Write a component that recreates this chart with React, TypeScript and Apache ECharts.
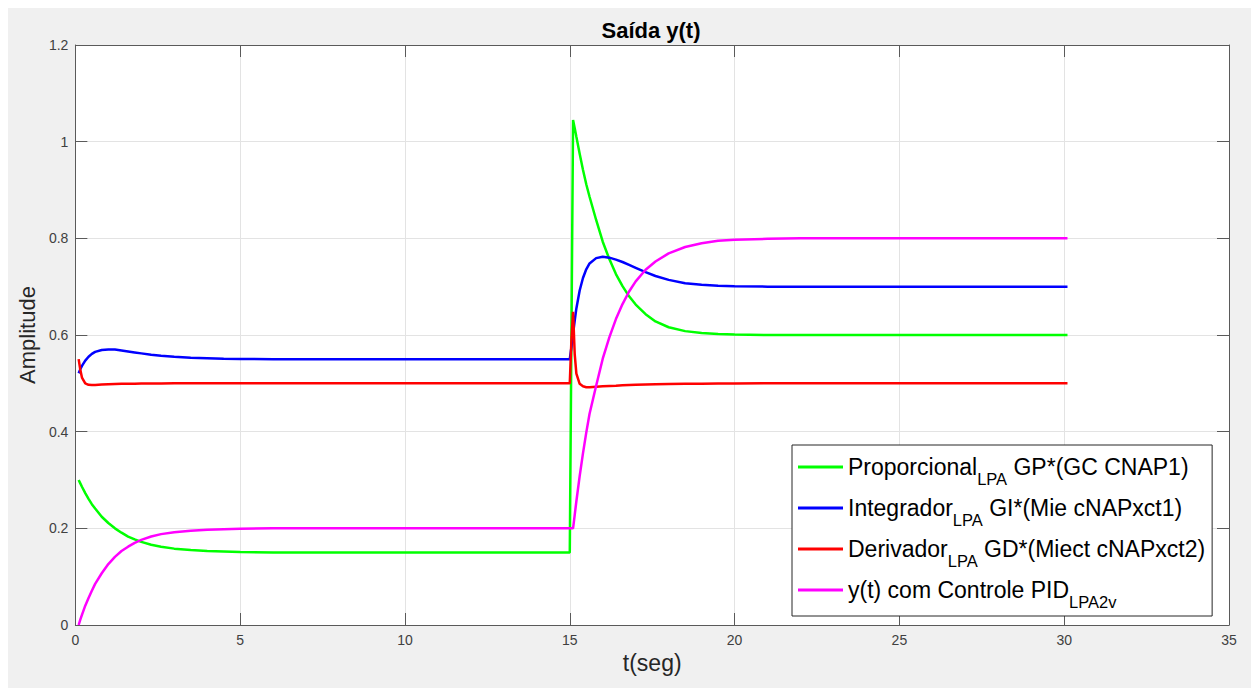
import React, { useEffect, useRef } from "react";
import * as echarts from "echarts";

const FONT = "'Liberation Sans', Arial, Helvetica, sans-serif";

const seriesNames = [
  "Proporcional LPA GP*(GC CNAP1)",
  "Integrador LPA GI*(Mie cNAPxct1)",
  "Derivador LPA GD*(Miect cNAPxct2)",
  "y(t) com Controle PID LPA2v",
];

const legendRich = [
  "{n|Proporcional}{s|LPA}{n| GP*(GC CNAP1)}",
  "{n|Integrador}{s|LPA}{n| GI*(Mie cNAPxct1)}",
  "{n|Derivador}{s|LPA}{n| GD*(Miect cNAPxct2)}",
  "{n|y(t) com Controle PID}{s|LPA2v}",
];

const colors = ["#00ff00", "#0000ff", "#ff0000", "#ff00ff"];

const xTicks = [0, 5, 10, 15, 20, 25, 30, 35];
const yTicks = [0, 0.2, 0.4, 0.6, 0.8, 1, 1.2];

// time (s)
const t = [
  0.1, 0.15, 0.2, 0.3, 0.4, 0.5, 0.6, 0.8, 1.0, 1.2, 1.4, 1.6, 1.8, 2.0, 2.3, 2.6,
  3.0, 3.5, 4.0, 4.5, 5.0, 6.0, 7.0, 8.0, 10.0, 12.0, 14.0, 15.0, 15.05, 15.1,
  15.15, 15.2, 15.3, 15.4, 15.5, 15.6, 15.8, 16.0, 16.2, 16.4, 16.6, 16.8, 17.0,
  17.3, 17.6, 18.0, 18.5, 19.0, 19.5, 20.0, 21.0, 22.0, 24.0, 26.0, 28.0, 30.1,
];

const proporcional = [
  0.3, 0.293, 0.286, 0.273, 0.261, 0.25, 0.241, 0.224, 0.211, 0.2, 0.191, 0.183,
  0.177, 0.172, 0.166, 0.162, 0.158, 0.155, 0.153, 0.152, 0.151, 0.15, 0.15, 0.15,
  0.15, 0.15, 0.15, 0.15, 0.597, 1.045, 1.028, 1.01, 0.975, 0.942, 0.912, 0.886,
  0.838, 0.793, 0.757, 0.726, 0.701, 0.68, 0.663, 0.643, 0.628, 0.616, 0.608,
  0.604, 0.602, 0.601, 0.6, 0.6, 0.6, 0.6, 0.6, 0.6,
];

const integrador = [
  0.521, 0.529, 0.536, 0.547, 0.555, 0.561, 0.565, 0.569, 0.57, 0.57, 0.568, 0.566,
  0.564, 0.562, 0.559, 0.557, 0.555, 0.553, 0.552, 0.551, 0.5505, 0.55, 0.55, 0.55,
  0.55, 0.55, 0.55, 0.55, 0.575, 0.603, 0.63, 0.655, 0.692, 0.718, 0.736, 0.748,
  0.759, 0.762, 0.76, 0.756, 0.751, 0.745, 0.739, 0.73, 0.722, 0.714, 0.707, 0.704,
  0.702, 0.701, 0.7, 0.7, 0.7, 0.7, 0.7, 0.7,
];

const derivador = [
  0.55, 0.528, 0.512, 0.5, 0.497, 0.4965, 0.4968, 0.4975, 0.498, 0.4985, 0.499,
  0.499, 0.4993, 0.4995, 0.4997, 0.4998, 0.5, 0.5, 0.5, 0.5, 0.5, 0.5, 0.5, 0.5,
  0.5, 0.5, 0.5, 0.5, 0.59, 0.648, 0.56, 0.52, 0.499, 0.494, 0.492, 0.492, 0.493,
  0.494, 0.4945, 0.495, 0.4958, 0.4965, 0.497, 0.4975, 0.498, 0.4985, 0.499,
  0.4993, 0.4995, 0.4997, 0.5, 0.5, 0.5, 0.5, 0.5, 0.5,
];

const pid = [
  0.0, 0.011, 0.021, 0.04, 0.056, 0.071, 0.085, 0.107, 0.126, 0.141, 0.153, 0.162,
  0.17, 0.176, 0.183, 0.188, 0.192, 0.195, 0.197, 0.198, 0.199, 0.2, 0.2, 0.2, 0.2,
  0.2, 0.2, 0.2, 0.2, 0.2, 0.228, 0.256, 0.308, 0.355, 0.398, 0.437, 0.495, 0.551,
  0.595, 0.633, 0.664, 0.69, 0.711, 0.735, 0.752, 0.769, 0.782, 0.79, 0.795, 0.797,
  0.799, 0.8, 0.8, 0.8, 0.8, 0.8,
];

const values = [proporcional, integrador, derivador, pid];

export default function App() {
  const ref = useRef<HTMLDivElement>(null);

  useEffect(() => {
    if (!ref.current) return;
    const chart = echarts.init(ref.current, undefined, { renderer: "svg" });
    const axisColor = "#5a5a5a";
    const labelColor = "#404040";
    const fmt = (v: number) => String(+v.toFixed(1));

    const baseX = {
      type: "value" as const,
      min: xTicks[0],
      max: xTicks[xTicks.length - 1],
      interval: xTicks[1] - xTicks[0],
      axisLine: { show: true, onZero: false, lineStyle: { color: axisColor, width: 1 } },
      axisTick: { show: true, inside: true, length: 12, lineStyle: { color: axisColor } },
    };
    const baseY = {
      type: "value" as const,
      min: yTicks[0],
      max: yTicks[yTicks.length - 1],
      interval: 0.2,
      axisLine: { show: true, onZero: false, lineStyle: { color: axisColor, width: 1 } },
      axisTick: { show: true, inside: true, length: 12, lineStyle: { color: axisColor } },
    };

    chart.setOption({
      animation: false,
      backgroundColor: "#f0f0f0",
      title: {
        text: "Saída y(t)",
        left: 643,
        top: 11,
        padding: 0,
        textAlign: "center",
        textStyle: { fontFamily: FONT, fontSize: 22, fontWeight: "bold", color: "#000", lineHeight: 22 },
      },
      grid: {
        left: 65,
        top: 37,
        right: 22,
        bottom: 63,
        show: true,
        backgroundColor: "#ffffff",
        borderWidth: 0,
        containLabel: false,
      },
      legend: {
        data: seriesNames,
        orient: "vertical",
        left: 784,
        top: 437,
        padding: [2, 7, 6, 6],
        itemGap: 1,
        itemWidth: 45,
        itemHeight: 3,
        icon: "rect",
        selectedMode: false,
        backgroundColor: "#ffffff",
        borderColor: "#262626",
        borderWidth: 1,
        borderRadius: 0,
        formatter: (name: string) => legendRich[seriesNames.indexOf(name)],
        textStyle: {
          fontFamily: FONT,
          fontSize: 23,
          color: "#000",
          rich: {
            n: { fontFamily: FONT, fontSize: 23, lineHeight: 24, color: "#000" },
            s: { fontFamily: FONT, fontSize: 16.5, lineHeight: 16, color: "#000", padding: [23, 0, 0, 0] },
          },
        },
      },
      xAxis: [
        {
          ...baseX,
          position: "bottom",
          name: "t(seg)",
          nameLocation: "middle",
          nameGap: 26,
          nameTextStyle: { fontFamily: FONT, fontSize: 23, color: "#262626" },
          axisLabel: { show: true, margin: 8, fontFamily: FONT, fontSize: 14, color: labelColor, formatter: fmt },
          splitLine: { show: true, lineStyle: { color: "#e3e3e3", width: 1 } },
        },
        {
          ...baseX,
          position: "top",
          axisLabel: { show: false },
          splitLine: { show: false },
        },
      ],
      yAxis: [
        {
          ...baseY,
          position: "left",
          name: "Amplitude",
          nameLocation: "middle",
          nameGap: 32,
          nameTextStyle: { fontFamily: FONT, fontSize: 22, color: "#262626" },
          axisLabel: { show: true, margin: 7, fontFamily: FONT, fontSize: 14, color: labelColor, formatter: fmt },
          splitLine: { show: true, lineStyle: { color: "#e3e3e3", width: 1 } },
        },
        {
          ...baseY,
          position: "right",
          axisLabel: { show: false },
          splitLine: { show: false },
        },
      ],
      series: seriesNames.map((name, i) => ({
        name,
        type: "line",
        xAxisIndex: 0,
        yAxisIndex: 0,
        symbol: "none",
        showSymbol: false,
        smooth: false,
        color: colors[i],
        lineStyle: { color: colors[i], width: 2.5 },
        data: t.map((x, k) => [x, values[i][k]]),
      })),
    });

    return () => chart.dispose();
  }, []);

  return <div ref={ref} style={{ width: 1243, height: 680 }} />;
}
